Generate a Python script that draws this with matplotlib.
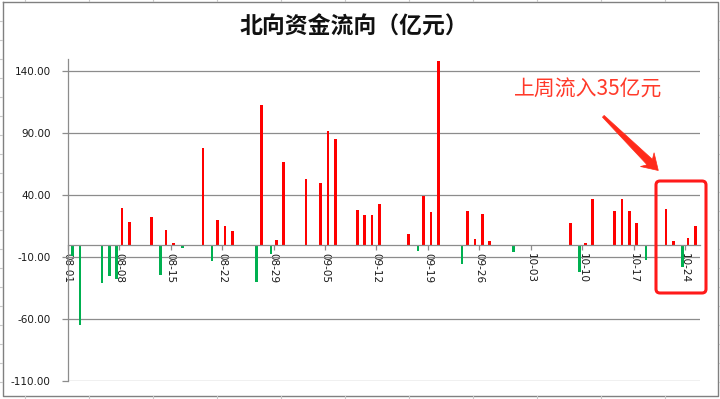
import matplotlib
matplotlib.use("Agg")
import matplotlib.pyplot as plt
import matplotlib.patches as mpatches
import matplotlib.transforms as mtransforms
from matplotlib.lines import Line2D
import numpy as np
import pandas as pd

# ---- data (2019 trading days, northbound net flow, 亿元) ----
dates = ["08-01", "08-02", "08-05", "08-06", "08-07", "08-08", "08-09",
         "08-12", "08-13", "08-14", "08-15", "08-16",
         "08-19", "08-20", "08-21", "08-22", "08-23",
         "08-26", "08-27", "08-28", "08-29", "08-30",
         "09-02", "09-04", "09-05", "09-06",
         "09-09", "09-10", "09-11", "09-12",
         "09-16", "09-17", "09-18", "09-19", "09-20",
         "09-23", "09-24", "09-25", "09-26", "09-27",
         "09-30",
         "10-08", "10-09", "10-10", "10-11",
         "10-14", "10-15", "10-16", "10-17", "10-18",
         "10-21", "10-22", "10-23", "10-24", "10-25"]
flows = [-9.0, -65.0, -30.7, -25.3, -27.5, 29.5, 18.2,
         22.3, -24.5, 11.8, 1.5, -2.5,
         78.2, -13.0, 20.0, 15.2, 11.0,
         -30.0, 112.6, -7.9, 3.7, 66.6,
         52.9, 49.7, 91.6, 85.2,
         27.9, 23.9, 23.9, 32.7,
         8.5, -4.9, 39.5, 26.3, 148.0,
         -15.4, 27.1, 4.5, 24.7, 2.9,
         -6.2,
         17.4, -21.8, 1.6, 36.8,
         27.1, 36.8, 27.1, 17.4, -12.4,
         28.7, 2.7, -17.8, 5.3, 15.0]
tick_labels = ["08-01", "08-08", "08-15", "08-22", "08-29", "09-05", "09-12",
               "09-19", "09-26", "10-03", "10-10", "10-17", "10-24"]
yticks = [-110, -60, -10, 40, 90, 140]
title = "北向资金流向（亿元）"
note = "上周流入35亿元"

YEAR = "2019-"
start = pd.Timestamp(YEAR + dates[0])
end = pd.Timestamp(YEAR + dates[-1])
day_idx = np.array([(pd.Timestamp(YEAR + d) - start).days for d in dates])
vals = np.array(flows)
tick_idx = np.array([(pd.Timestamp(YEAR + d) - start).days for d in tick_labels])
n_days = (end - start).days + 1

RED = "#FF0000"
GREEN = "#00B050"
GRID = "#8C8C8C"

fig = plt.figure(figsize=(7.2, 3.99), dpi=100)
W, H = 720, 399
ax = fig.add_axes([67.7 / W, (H - 381) / H, (700 - 67.7) / W, (381 - 58.6) / H])

for s in ["top", "right"]:
    ax.spines[s].set_visible(False)
ax.spines["bottom"].set_position(("data", 0))
ax.spines["bottom"].set_color(GRID)
ax.spines["bottom"].set_linewidth(0.9)
ax.spines["bottom"].set_zorder(4)
ax.spines["left"].set_color(GRID)
ax.spines["left"].set_linewidth(0.9)

pos = vals > 0
neg = vals < 0
ax.bar(day_idx[pos] - 0.11, vals[pos], width=0.36, color=RED, zorder=3, linewidth=0)
ax.bar(day_idx[neg] + 0.15, vals[neg], width=0.36, color=GREEN, zorder=3, linewidth=0)

ax.set_xlim(-0.5, n_days - 0.5)
ax.set_ylim(-110, 150)

ax.set_yticks(yticks)
ax.set_yticklabels([f"{v:.2f}" for v in yticks], fontsize=7.5, color="#1a1a1a",
                   family="DejaVu Sans")
ax.yaxis.grid(True, color=GRID, linewidth=0.9, zorder=1)
ax.set_axisbelow(True)

ax.set_xticks(tick_idx - 0.5)
ax.set_xticklabels(tick_labels, rotation=270, ha="center", va="top", fontsize=7.5,
                   color="#1a1a1a", family="DejaVu Sans")
shift = mtransforms.ScaledTranslation(1.5 / 100, 0, fig.dpi_scale_trans)
for lbl in ax.get_xticklabels():
    lbl.set_transform(lbl.get_transform() + shift)

ax.tick_params(axis="y", direction="out", length=4.3, width=0.9, color=GRID, pad=8)
ax.tick_params(axis="x", direction="out", length=3.8, width=0.9, color=GRID, pad=2)

# title
fig.text(354 / W, 1 - 27 / H, title, ha="center", va="center", fontsize=16.5,
         fontweight="bold", family=["Noto Sans CJK SC", "DejaVu Sans"], color="#111111")

# annotation text
fig.text(588 / W, 1 - 90 / H, note, ha="center", va="center", fontsize=15,
         family=["Noto Sans CJK SC", "DejaVu Sans"], color="#FF3A2A")

# arrow (tapered wedge with swept-back head), built in figure pixel space
tail = np.array([603.3, 116.3])
tip = np.array([658.3, 170.5])
u = (tip - tail) / np.linalg.norm(tip - tail)
nrm = np.array([-u[1], u[0]])
join = tip - 12.0 * u
barb = tip - 15.5 * u
pts = [tail + 1.2 * nrm, join + 3.8 * nrm, barb + 9.7 * nrm, tip,
       barb - 9.7 * nrm, join - 3.8 * nrm, tail - 1.2 * nrm]
pts = [(p[0] / W, 1 - p[1] / H) for p in pts]
fig.patches.append(mpatches.Polygon(pts, closed=True, transform=fig.transFigure,
                                    facecolor="#FF2A1A", edgecolor="#FF2A1A",
                                    linewidth=0.5))

# highlight box
fig.patches.append(mpatches.FancyBboxPatch(
    (6.56, (H - 293) / 100), 0.50, 1.12, boxstyle="round,pad=0,rounding_size=0.04",
    transform=fig.dpi_scale_trans, fill=False, edgecolor="#FF1A1A", linewidth=2.2))

# sheet / chart frame
def fline(xs, ys, color, lw):
    fig.add_artist(Line2D([x / W for x in xs], [1 - y / H for y in ys],
                          transform=fig.transFigure, color=color, linewidth=lw))

FR = "#808080"
fline([2.5, 717.8, 717.8, 2.5, 2.5], [1.5, 1.5, 395.5, 395.5, 1.5], FR, 1.0)
CELL = "#C8C8C8"
for y in np.arange(21.3, 395, 19.0):
    fline([0, 2.0], [y, y], CELL, 0.8)
    fline([718.5, 720], [y, y], CELL, 0.8)
for x in np.arange(25.3, 717, 64.0):
    fline([x, x], [0, 1.0], CELL, 0.8)
    fline([x, x], [396.3, 399], CELL, 0.8)

fig.savefig("out.png", dpi=100)
